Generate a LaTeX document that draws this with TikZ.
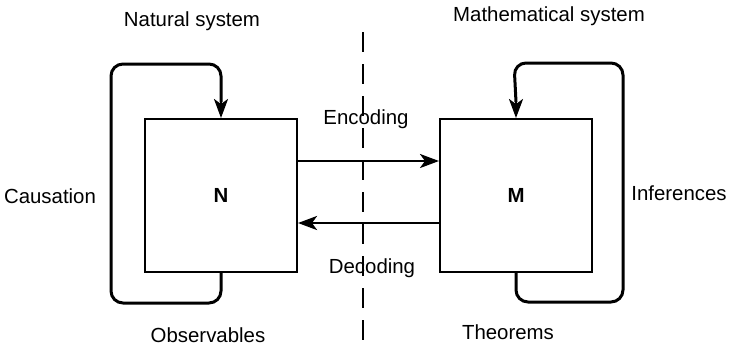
\documentclass[tikz,border=0pt]{standalone}
\usepackage{fontspec}
\setmainfont{Liberation Sans}
\usepackage{tikz}
\usetikzlibrary{arrows.meta,positioning,calc}

\begin{document}
\begin{tikzpicture}[
    x=0.5pt, y=-0.5pt,
    font=\fontsize{10.2}{12}\selectfont,
    block/.style={rectangle, draw=black, line width=1pt, minimum width=76pt, minimum height=76.5pt, font=\fontsize{10.2}{12}\selectfont\bfseries},
    line/.style={draw, -{Stealth[length=9.5pt, width=7pt, inset=2.5pt]}, line width=1.3pt},
    loopline/.style={draw, line width=1.5pt, rounded corners=6pt},
    divider/.style={draw, line width=0.75pt, dash pattern=on 10pt off 6pt}
]
\useasboundingbox (0,0) rectangle (734,344);

% Boxes
\node [block] (nat) at (221,195.5) {N};
\node [block, right=70.5pt of nat] (mat) {M};

% Loop corners
\coordinate (nloopl) at (111,303);
\coordinate (nloopt) at (221,64);
\coordinate (mloopr) at (623,302);
\coordinate (mloopt) at (514,63);
\coordinate (divtop) at (363,32);
\coordinate (divbot) at (363,344);

% Labels
\node at (192,21) {Natural system};
\node at (549,16) {Mathematical system};
\node at (50,196) {Causation};
\node at (679,193) {Inferences};
\node at (366,119) {Encoding};
\node at (372,268) {Decoding};
\node at (208,335) {Observables};
\node at (508,332) {Theorems};

% Connectors
\path [divider] (divtop) -- (divbot);
\path [line] ([yshift=17.25pt]nat.east) -- ([yshift=17.25pt]mat.west);
\path [line] ([yshift=-13.75pt]mat.west) -- ([yshift=-13.75pt]nat.east);
\path [loopline] (nat.south) |- (nloopl) |- (nloopt) -- ([yshift=8pt]nat.north);
\path [line] ([yshift=10pt]nat.north) -- (nat.north);
\path [loopline] (mat.south) |- (mloopr) |- (mloopt) -- ([yshift=8pt]mat.north);
\path [line] ([yshift=10pt]mat.north) -- (mat.north);

\end{tikzpicture}
\end{document}
